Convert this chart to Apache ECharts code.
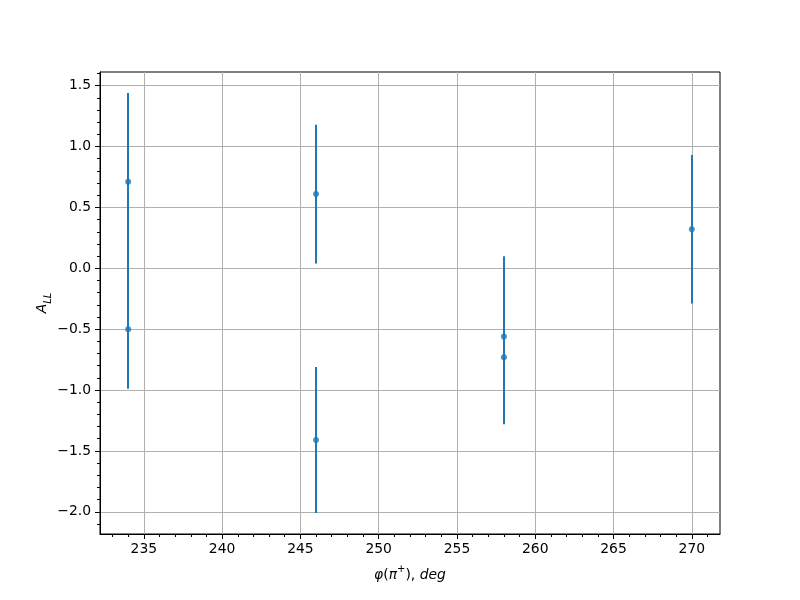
<!DOCTYPE html>
<html>
<head>
<meta charset="utf-8">
<script src="https://cdn.jsdelivr.net/npm/echarts@6/dist/echarts.min.js"></script>
<style>html,body{margin:0;padding:0;background:#fff}#c{width:800px;height:600px}</style>
</head>
<body>
<div id="c"></div>
<script>
// Data (phi in degrees, A_LL values and symmetric errors)
const xVals = [234, 234, 246, 246, 258, 258, 270];
const yVals = [0.71, -0.50, 0.61, -1.41, -0.56, -0.73, 0.32];
const yErr  = [0.73, 0.49, 0.57, 0.60, 0.66, 0.55, 0.61];

// Tick labels
const xTicks = [235, 240, 245, 250, 255, 260, 265, 270];
const yTicks = [-2.0, -1.5, -1.0, -0.5, 0.0, 0.5, 1.0, 1.5];
const xMinorTicks = [];
for (let v = 233; v <= 271; v += 1) if (v % 5 !== 0) xMinorTicks.push(v);
const yMinorTicks = [];
for (let k = -21; k <= 16; k++) if (k % 5 !== 0) yMinorTicks.push(+(k / 10).toFixed(1));

// axis limits (matplotlib 5% margins)
const xMin = 232.2, xMax = 271.8;
const yMin = -2.1825, yMax = 1.6125;

const FONT = 'DejaVu Sans';
const C = '#1f77b4';

const points = xVals.map((x, i) => [x, yVals[i]]);
const bars = xVals.map((x, i) => [x, yVals[i] - yErr[i], yVals[i] + yErr[i]]);

const fmt = v => v.toFixed(1).replace('-', '\u2212');

const chart = echarts.init(document.getElementById('c'), null, {renderer: 'canvas'});
chart.setOption({
  animation: false,
  backgroundColor: '#fff',
  grid: {left: 100, right: 80, top: 72, bottom: 66, show: true, borderColor: '#000', borderWidth: 1, backgroundColor: 'transparent'},
  xAxis: [{
    type: 'value', min: xMin, max: xMax,
    axisLine: {show: true, onZero: false, lineStyle: {color: '#000', width: 1}},
    axisTick: {show: true, length: 5, lineStyle: {color: '#000', width: 1}, customValues: xTicks},
    axisLabel: {customValues: xTicks, color: '#000', fontFamily: FONT, fontSize: 13.9, margin: 8, formatter: v => String(v)},
    splitLine: {show: true, lineStyle: {color: '#b0b0b0', width: 1}},
    name: '{i|φ}{n|(}{i|π}{sup|+}{n|), }{i|deg}',
    nameLocation: 'middle', nameGap: 30, nameMoveOverlap: false,
    nameTextStyle: {
      color: '#000', fontFamily: FONT, fontSize: 13.9,
      rich: {
        i: {fontFamily: FONT, fontSize: 13.9, fontStyle: 'italic', color: '#000', verticalAlign: 'bottom', lineHeight: 18},
        n: {fontFamily: FONT, fontSize: 13.9, color: '#000', verticalAlign: 'bottom', lineHeight: 18},
        sup: {fontFamily: FONT, fontSize: 10, color: '#000', verticalAlign: 'top', lineHeight: 12}
      }
    }
  }, {
    type: 'value', min: xMin, max: xMax, position: 'bottom',
    axisLine: {show: false, onZero: false},
    axisTick: {show: true, length: 3, lineStyle: {color: '#000', width: 1}, customValues: xMinorTicks},
    axisLabel: {show: false, customValues: xMinorTicks},
    splitLine: {show: false}
  }],
  yAxis: [{
    type: 'value', min: yMin, max: yMax,
    axisLine: {show: true, onZero: false, lineStyle: {color: '#000', width: 1}},
    axisTick: {show: true, length: 5, lineStyle: {color: '#000', width: 1}, customValues: yTicks},
    axisLabel: {customValues: yTicks, color: '#000', fontFamily: FONT, fontSize: 13.9, margin: 9, formatter: v => fmt(v)},
    splitLine: {show: true, lineStyle: {color: '#b0b0b0', width: 1}},
    name: '{a|A}{s|LL}',
    nameLocation: 'middle', nameGap: 47, nameMoveOverlap: false,
    nameTextStyle: {
      color: '#000', fontFamily: FONT,
      rich: {
        a: {fontFamily: FONT, fontSize: 13.9, fontStyle: 'italic', color: '#000', verticalAlign: 'top', lineHeight: 18},
        s: {fontFamily: FONT, fontSize: 10, fontStyle: 'italic', color: '#000', verticalAlign: 'bottom', lineHeight: 10}
      }
    }
  }, {
    type: 'value', min: yMin, max: yMax, position: 'left',
    axisLine: {show: false, onZero: false},
    axisTick: {show: true, length: 3, lineStyle: {color: '#000', width: 1}, customValues: yMinorTicks},
    axisLabel: {show: false, customValues: yMinorTicks},
    splitLine: {show: false}
  }],
  series: [{
    type: 'custom',
    xAxisIndex: 0, yAxisIndex: 0,
    data: bars,
    clip: true,
    renderItem: function (params, api) {
      const x = api.value(0);
      const p1 = api.coord([x, api.value(1)]);
      const p2 = api.coord([x, api.value(2)]);
      const px = Math.round(p1[0]);
      return {type: 'line', shape: {x1: px, y1: p1[1], x2: px, y2: p2[1]}, style: {stroke: C, lineWidth: 2}};
    },
    z: 3
  }, {
    type: 'scatter',
    xAxisIndex: 0, yAxisIndex: 0,
    data: points,
    symbol: 'circle', symbolSize: 6,
    itemStyle: {color: C},
    z: 4
  }]
});
</script>
</body>
</html>
